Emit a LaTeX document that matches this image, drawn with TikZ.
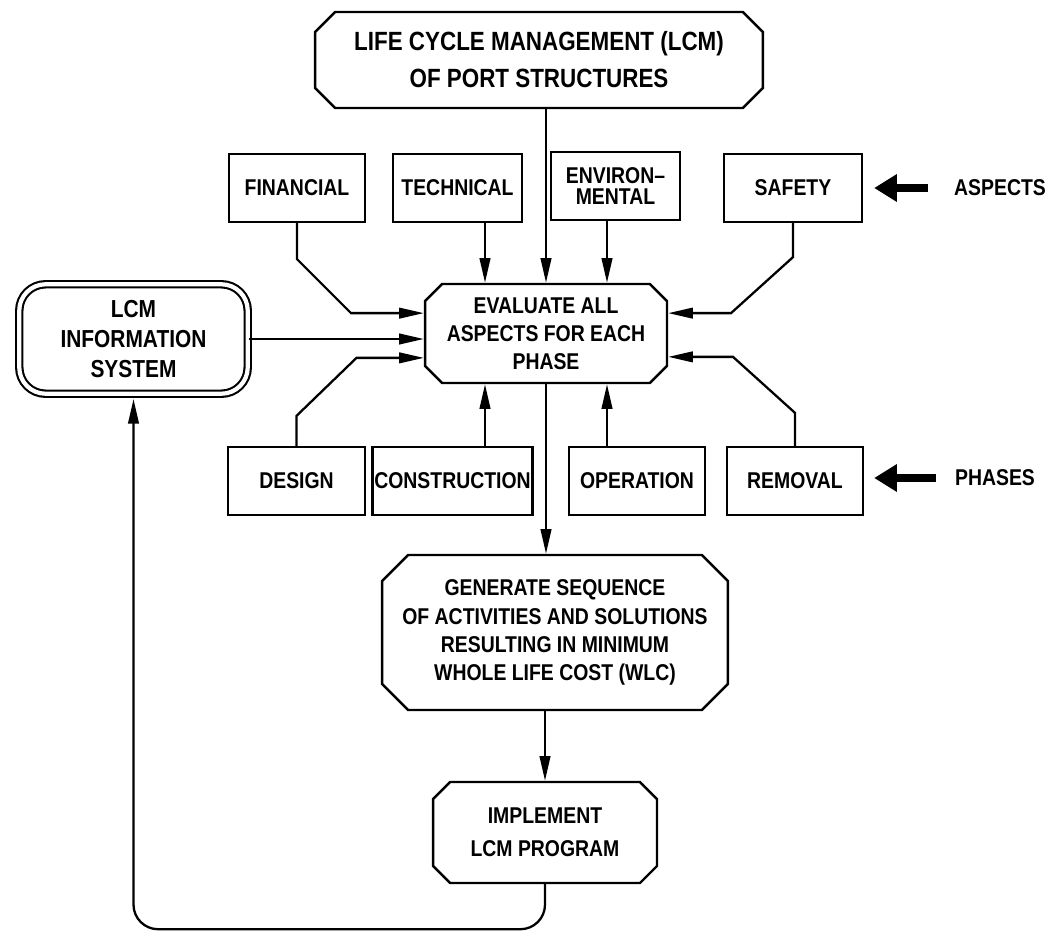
\documentclass[tikz,border=0pt]{standalone}
\usepackage{fontspec}
\setmainfont{Liberation Sans}[FakeStretch=0.85]
\usetikzlibrary{shapes.misc,arrows.meta,calc}

\tikzset{
  box/.style={draw, line width=1.3pt, minimum height=1.36cm, align=center,
    inner sep=1pt, font=\bfseries\fontsize{13}{15}\selectfont},
  octbox/.style={draw, chamfered rectangle, chamfered rectangle xsep=0.17cm,
    chamfered rectangle ysep=0.17cm, line width=1.4pt, align=center, inner sep=0pt,
    font=\bfseries\fontsize{13}{16}\selectfont},
  infobox/.style={draw, double, double distance=2.4pt, line width=1.2pt,
    rounded corners=15pt, align=center, font=\bfseries\fontsize{14}{17}\selectfont},
  arr/.style={line width=1.3pt, -{Triangle[length=14pt,width=6pt]}},
  bigarr/.style={line width=4.5pt, -{Triangle[length=13pt,width=15pt]}},
  lbl/.style={font=\bfseries\fontsize{13}{15}\selectfont}
}

\begin{document}
\begin{tikzpicture}[x=0.02cm, y=-0.02cm]
    \useasboundingbox (0,0) rectangle (1057,932);

    % draw main flow
    \node[octbox, minimum width=8.96cm, minimum height=1.92cm,
      chamfered rectangle xsep=0.2cm, chamfered rectangle ysep=0.2cm,
      font=\bfseries\fontsize{15}{21}\selectfont] (lcm) at (539,60)
      {LIFE CYCLE MANAGEMENT (LCM)\\OF PORT STRUCTURES};
    \node[octbox, minimum width=4.84cm, minimum height=1.98cm] (eval) at (546,333.5)
      {EVALUATE ALL\\ASPECTS FOR EACH\\PHASE};
    \node[octbox, minimum width=6.92cm, minimum height=3.1cm,
      chamfered rectangle xsep=0.26cm, chamfered rectangle ysep=0.26cm] (gen) at (555,632.5)
      {GENERATE SEQUENCE\\OF ACTIVITIES AND SOLUTIONS\\RESULTING IN MINIMUM\\WHOLE LIFE COST (WLC)};
    \node[octbox, minimum width=4.48cm, minimum height=2.02cm,
      font=\bfseries\fontsize{13}{19}\selectfont] (impl) at (545,832.5)
      {IMPLEMENT\\LCM PROGRAM};
    \node[infobox, minimum width=4.57cm, minimum height=2.19cm] (info) at (133.5,339)
      {LCM\\INFORMATION\\SYSTEM};

    % draw aspects
    \node[box, minimum width=2.72cm] (fin) at (297,188) {FINANCIAL};
    \node[box, minimum width=2.58cm] (tech) at (457.5,188) {TECHNICAL};
    \node[box, minimum width=2.58cm, font=\bfseries\fontsize{13}{12}\selectfont] (env) at (615.5,186)
      {ENVIRON--\\MENTAL};
    \node[box, minimum width=2.76cm] (safe) at (793,188) {SAFETY};

    % draw phases
    \node[box, minimum width=2.74cm] (design) at (296.5,481) {DESIGN};
    \node[box, minimum width=2.82cm] (constr) at (452.5,481) {CONSTRUCTION};
    \node[box, minimum width=2.72cm] (oper) at (637,481) {OPERATION};
    \node[box, minimum width=2.72cm] (remov) at (795,481) {REMOVAL};

    % draw side labels
    \node[lbl] (aspects) at (1000,188) {ASPECTS};
    \node[lbl] (phases) at (995,478) {PHASES};
    \draw[bigarr, shorten <=0.4cm, shorten >=0.22cm] (aspects.west) -- (aspects.west -| safe.east);
    \draw[bigarr, shorten <=0.25cm, shorten >=0.2cm] (phases.west) -- (phases.west -| remov.east);

    % draw arrows into eval
    \coordinate (e1) at ($(eval.north)+(-61,0)$);
    \coordinate (e2) at ($(eval.north)+(61,0)$);
    \coordinate (e3) at ($(eval.south)+(-61,0)$);
    \coordinate (e4) at ($(eval.south)+(61,0)$);
    \draw[arr] (eval.north |- lcm.south) -- (eval.north);
    \draw[arr] (e1 |- tech.south) -- (e1);
    \draw[arr] (e2 |- env.south) -- (e2);
    \draw[arr] (e3 |- constr.north) -- (e3);
    \draw[arr] (e4 |- oper.north) -- (e4);
    \draw[arr] (fin.south) -- ++(0,36) -- ++(54,54) coordinate (f1) -- (f1 -| eval.west);
    \draw[arr] (design.north) -- ++(0,-30) -- ++(60,-58) coordinate (d1) -- (d1 -| eval.west);
    \draw[arr] (safe.south) -- ++(0,34) -- ++(-62,56) coordinate (s1) -- (s1 -| eval.east);
    \draw[arr] (remov.north) -- ++(0,-33) -- ++(-62,-56) coordinate (r1) -- (r1 -| eval.east);
    \draw[arr] (info.east) -- (info.east -| eval.west);

    % draw arrows down
    \draw[arr] (eval.south) -- (eval.south |- gen.north);
    \draw[arr] (impl.north |- gen.south) -- (impl.north);
    \draw[arr, rounded corners=14pt, shorten >=2.4pt] (impl.south) -- ++(0,45) -| (info.south);
\end{tikzpicture}
\end{document}
